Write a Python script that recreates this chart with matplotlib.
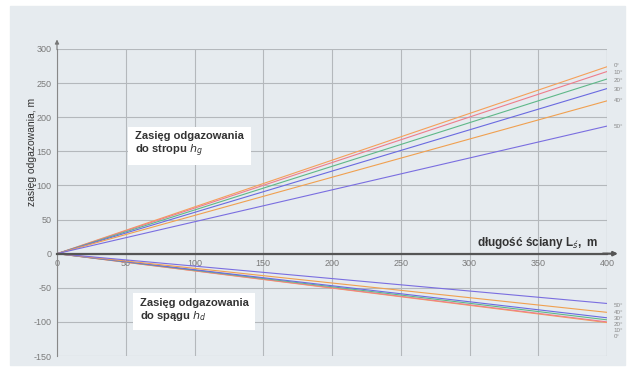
import numpy as np
import matplotlib.pyplot as plt
from matplotlib.patches import Rectangle

plt.rcParams['font.family'] = ['Liberation Sans', 'DejaVu Sans']
plt.rcParams['axes.unicode_minus'] = False

# dip angles of the seam and the reach of degassing at 400 m face length
angles = ['0°', '10°', '20°', '30°', '40°', '50°']
roof_400 = [274, 267, 256, 242, 224, 187]      # h_g, m
floor_400 = [-101, -100, -97, -94, -86, -73]   # h_d, m
face_len = [0, 400]

colors = ['#f5a05a', '#ee7d8c', '#5fb889', '#6a6ae0', '#f0a050', '#7a6ee0']
roof_lbl_y = [276, 265, 254, 240, 224, 187]
floor_lbl_y = [-122, -113, -104, -95, -86, -76]

xticks = [0, 50, 100, 150, 200, 250, 300, 350, 400]
yticks = [-150, -100, -50, 0, 50, 100, 150, 200, 250, 300]

fig = plt.figure(figsize=(6.32, 3.71), dpi=100)
fig.patch.set_facecolor('white')
bg = '#e6ebef'
fig.patches.append(Rectangle((10/632, 6/371), 615/632, 359/371,
                             transform=fig.transFigure, color=bg, zorder=-10))

ax = fig.add_axes([57/632, 15/371, 550/632, 307/371])
ax.set_facecolor(bg)
ax.set_xlim(0, 400)
ax.set_ylim(-150, 300)

for s in ['top', 'right']:
    ax.spines[s].set_visible(False)
ax.spines['bottom'].set_position(('data', 0))
ax.spines['bottom'].set_color('#555555')
ax.spines['bottom'].set_linewidth(1.6)
ax.spines['left'].set_color('#888888')
ax.spines['left'].set_linewidth(0.8)

ax.set_xticks(xticks)
ax.set_yticks(yticks)
ax.tick_params(length=0, labelsize=6.5, labelcolor='#7a7a7a', pad=4)
ax.grid(color='#b4b8bc', linewidth=0.8)
ax.set_axisbelow(True)

# right-hand frame line at 400 m
ax.axvline(400, color='#b4b8bc', lw=0.8)

# arrow heads on both axes
ax.annotate('', xy=(410, 0), xytext=(395, 0), annotation_clip=False,
            arrowprops=dict(arrowstyle='-|>', color='#555555', lw=1.6,
                            mutation_scale=6))
ax.annotate('', xy=(0, 318), xytext=(0, 295), annotation_clip=False,
            arrowprops=dict(arrowstyle='-|>', color='#777777', lw=0.8,
                            mutation_scale=6))

for i in range(len(angles)):
    ax.plot(face_len, [0, roof_400[i]], color=colors[i], lw=0.8)
    ax.plot(face_len, [0, floor_400[i]], color=colors[i], lw=0.8)
    ax.text(405, roof_lbl_y[i], angles[i], fontsize=4.5, color='#8a8a8a',
            va='center', clip_on=False)
    ax.text(405, floor_lbl_y[i], angles[i], fontsize=4.5, color='#8a8a8a',
            va='center', clip_on=False)

box = dict(facecolor='white', edgecolor='none', pad=5)
ax.text(57, 160, 'Zasięg odgazowania\ndo stropu $h_g$', fontsize=8,
        fontweight='bold', color='#333333', linespacing=1.15,
        va='center', bbox=box)
ax.text(60, -83, 'Zasięg odgazowania\ndo spągu $h_d$', fontsize=8,
        fontweight='bold', color='#333333', linespacing=1.15,
        va='center', bbox=box)

ax.text(394, 15, 'długość ściany L$_{ś}$,  m', fontsize=8.5, fontweight='bold',
        color='#333333', ha='right', va='center')
fig.text(32/632, 0.59, 'zasięg odgazowania, m', rotation=90, fontsize=7.5,
         color='#333333', ha='center', va='center')

fig.savefig('out.png', dpi=100)
